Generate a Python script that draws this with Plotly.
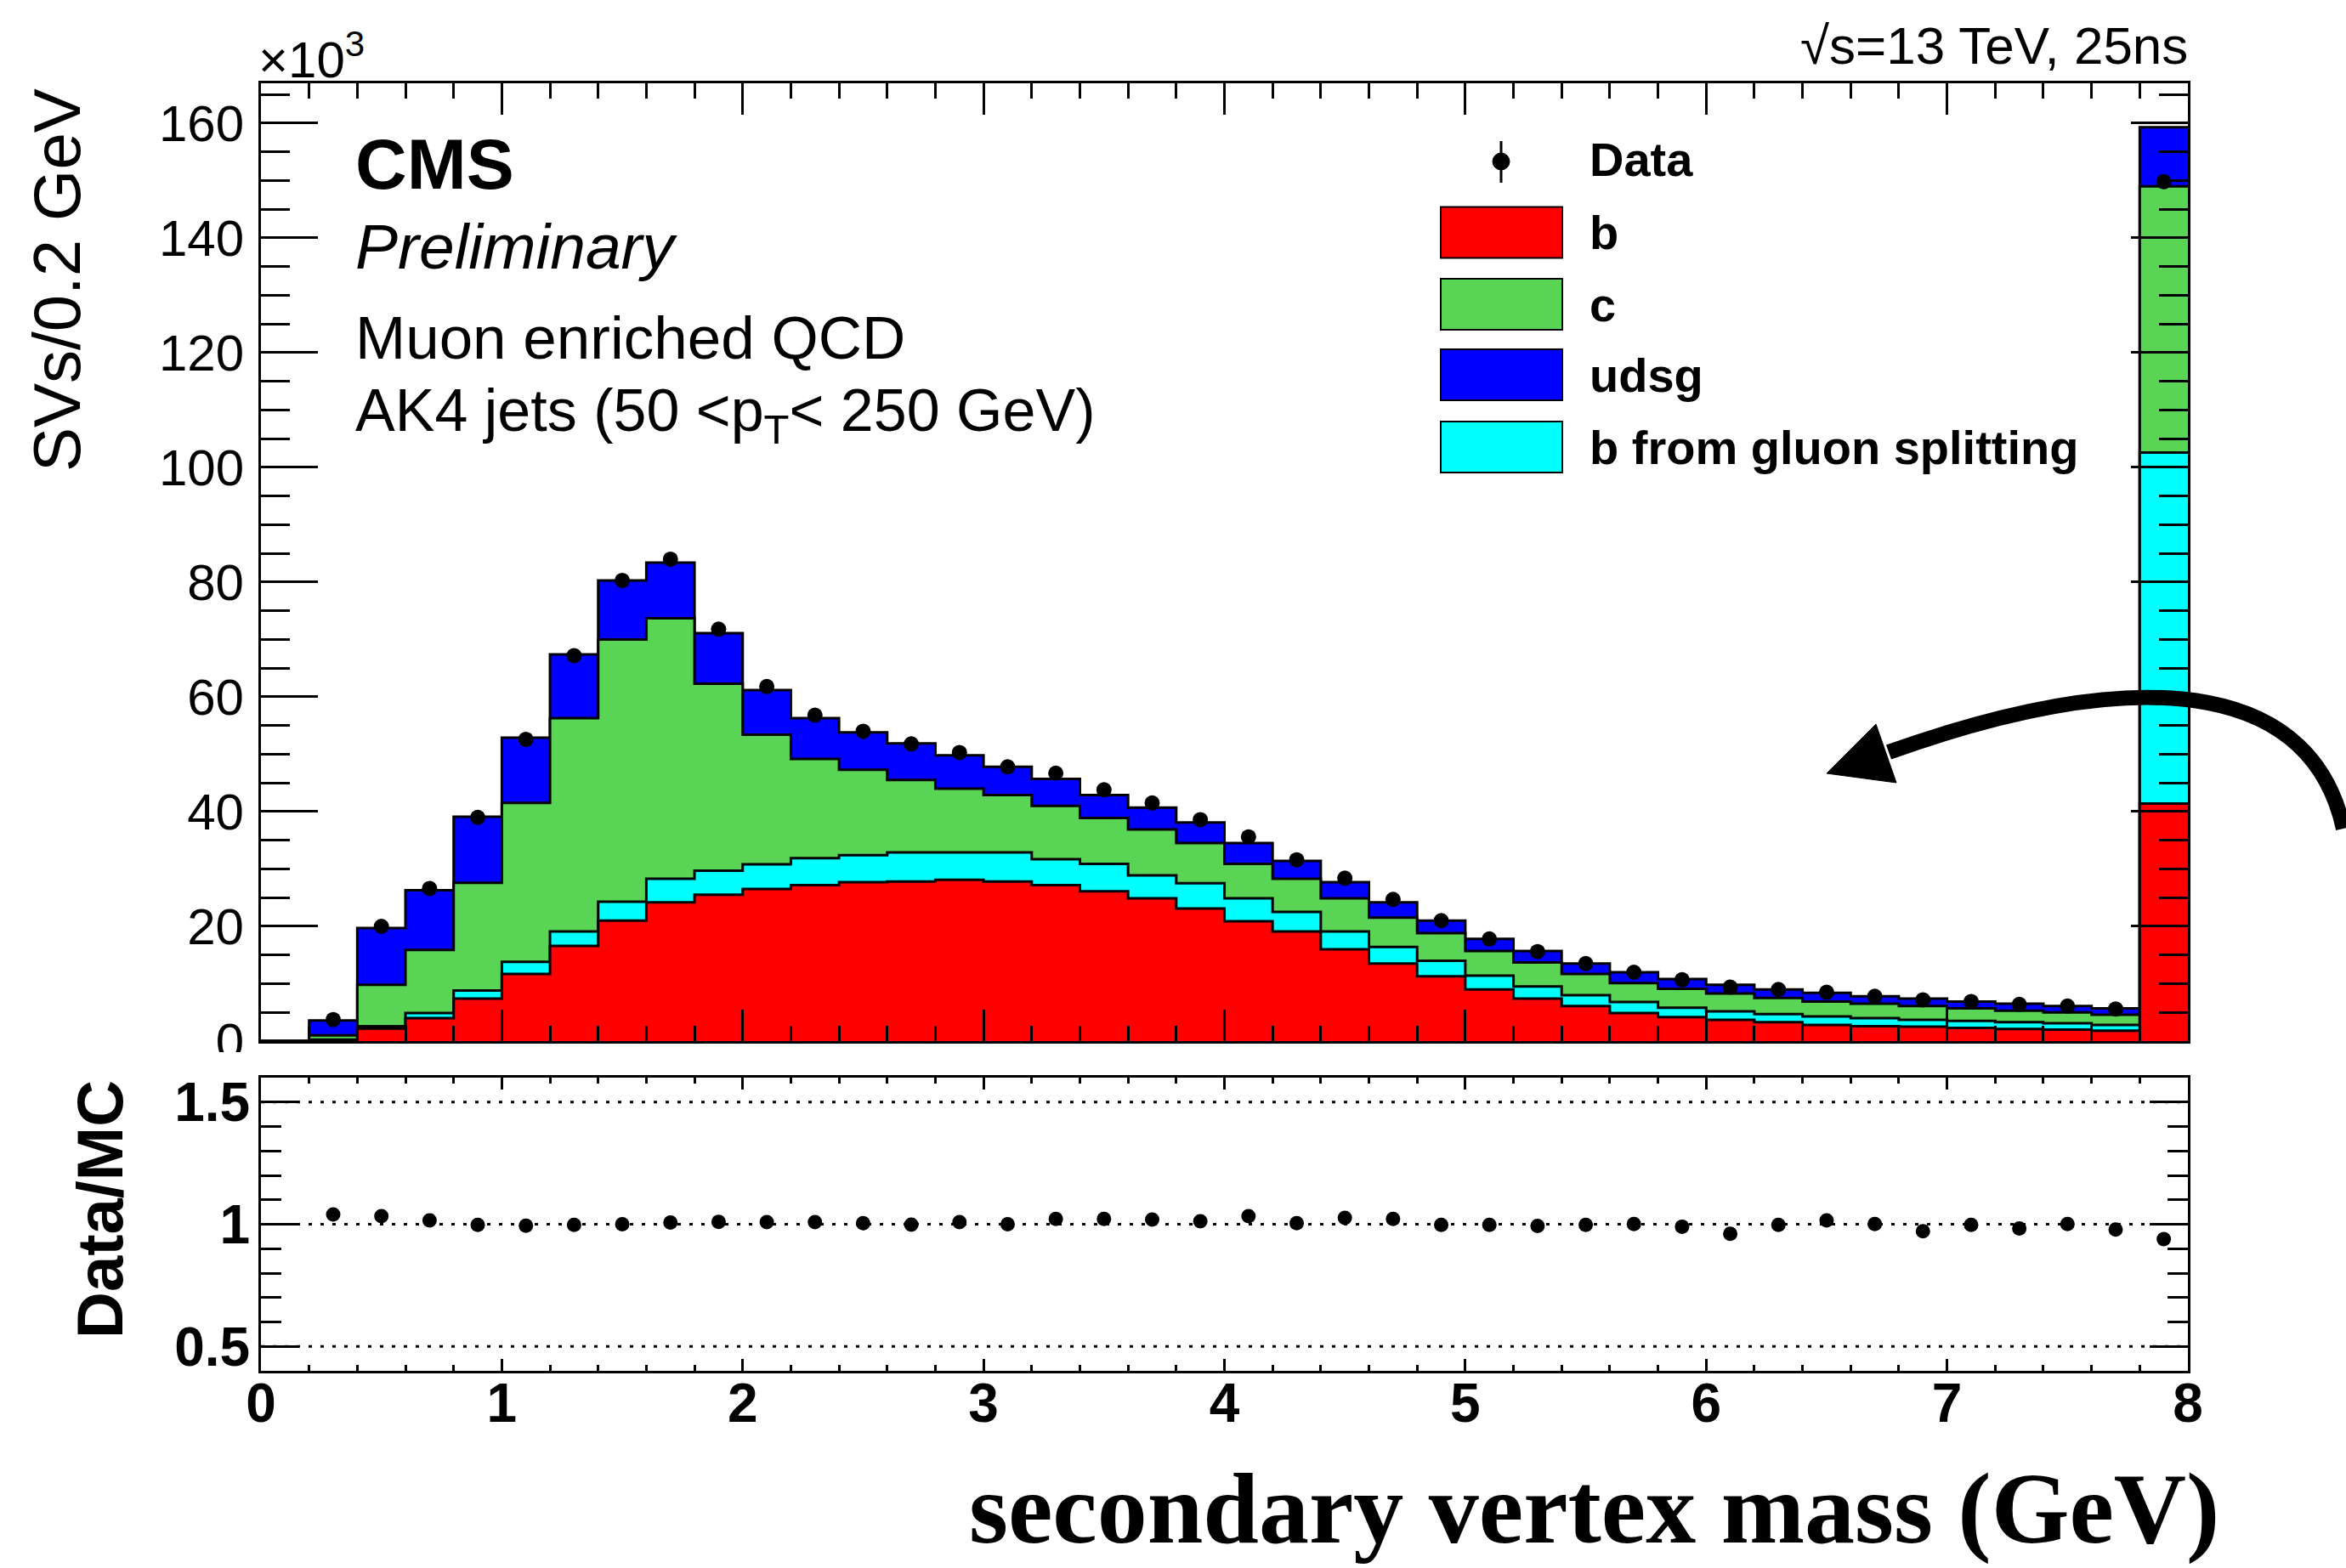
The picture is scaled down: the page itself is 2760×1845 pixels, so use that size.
import numpy as np
import plotly.graph_objects as go

W, H = 2760, 1845

# ---------------- data (units of 10^3 SVs per 0.2 GeV) ----------------
bin_edges = np.linspace(0.0, 8.0, 41)          # 40 bins of 0.2 GeV, last = overflow
bin_centers = 0.5 * (bin_edges[:-1] + bin_edges[1:])

b_jets = [0.0, 0.2, 2.2, 4.0, 7.4, 11.7, 16.6, 21.0, 24.2, 25.5,
          26.5, 27.2, 27.7, 27.8, 28.1, 27.8, 27.2, 26.1, 24.9, 23.1,
          20.9, 19.1, 16.0, 13.5, 11.3, 9.0, 7.4, 6.1, 4.9, 4.2,
          3.7, 3.3, 2.8, 2.6, 2.5, 2.3, 2.1, 2.0, 1.8, 41.4]
gsp_jets = [0.0, 0.05, 0.4, 0.9, 1.4, 2.1, 2.5, 3.3, 4.1, 4.2,
            4.3, 4.7, 4.7, 5.1, 4.8, 5.1, 4.5, 4.8, 4.0, 4.4,
            4.0, 3.4, 3.1, 2.9, 2.7, 2.4, 2.1, 1.9, 1.9, 1.6,
            1.5, 1.4, 1.5, 1.4, 1.2, 1.2, 1.2, 1.1, 1.0, 61.2]
c_jets = [0.0, 0.75, 7.2, 11.0, 18.8, 27.7, 37.2, 45.7, 45.4, 32.6,
          22.6, 17.3, 14.9, 12.6, 11.1, 10.0, 9.3, 8.0, 8.0, 7.0,
          6.0, 5.8, 5.8, 5.1, 4.8, 4.3, 4.2, 3.7, 3.3, 3.3,
          3.1, 2.8, 2.6, 2.5, 2.4, 2.2, 2.0, 1.9, 1.8, 46.4]
udsg_jets = [0.0, 2.6, 9.9, 10.4, 11.5, 11.4, 11.1, 10.3, 9.7, 8.8,
             7.8, 7.1, 6.5, 6.4, 5.8, 4.9, 4.7, 4.0, 3.8, 3.6,
             3.6, 3.1, 2.8, 2.7, 2.2, 2.1, 2.0, 1.8, 1.9, 1.7,
             1.5, 1.5, 1.5, 1.3, 1.3, 1.2, 1.2, 1.1, 1.1, 10.3]
data_counts = [None, 3.75, 20.0, 26.6, 39.0, 52.6, 67.2, 80.3, 84.0, 71.8,
               61.8, 56.8, 54.0, 51.8, 50.3, 47.8, 46.7, 43.8, 41.5, 38.6,
               35.6, 31.6, 28.4, 24.7, 21.0, 17.8, 15.6, 13.5, 12.0, 10.7,
               9.4, 9.0, 8.5, 7.8, 7.2, 6.9, 6.4, 6.1, 5.6, 149.8]
ratio_vals = [None, 1.040, 1.033, 1.016, 0.997, 0.994, 0.997, 1.000, 1.007, 1.010,
              1.009, 1.009, 1.004, 0.998, 1.009, 1.000, 1.022, 1.022, 1.019, 1.012,
              1.033, 1.004, 1.026, 1.022, 0.997, 0.997, 0.993, 0.997, 1.001, 0.990,
              0.961, 0.997, 1.016, 1.001, 0.971, 0.997, 0.983, 1.001, 0.978, 0.939]
ratio_ref_lines = [0.5, 1.0, 1.5]

legend_labels = ["b", "c", "udsg", "b from gluon splitting"]

COL_B, COL_C, COL_UDSG, COL_GSP = "#ff0000", "#59d454", "#0000ff", "#00ffff"
SANS = "Liberation Sans, Arial, Helvetica, sans-serif"
SERIF = "Liberation Serif, Times New Roman, serif"


def PX(x):
    return x / W


def PY(y):
    return 1 - y / H


# stacked cumulative levels (bottom -> top: b, gsp, c, udsg)
stack = np.cumsum(np.array([b_jets, gsp_jets, c_jets, udsg_jets]), axis=0)

fig = go.Figure()

for level, colr in [(stack[3], COL_UDSG), (stack[2], COL_C), (stack[1], COL_GSP), (stack[0], COL_B)]:
    yy = list(level) + [level[-1]]
    fig.add_trace(go.Scatter(x=bin_edges, y=yy, mode="lines",
                             line=dict(shape="hv", color="black", width=3),
                             fill="tozeroy", fillcolor=colr, showlegend=False,
                             hoverinfo="skip", xaxis="x", yaxis="y"))

fig.add_trace(go.Scatter(x=bin_centers, y=data_counts, mode="markers",
                         marker=dict(color="black", size=18), showlegend=False,
                         xaxis="x", yaxis="y"))

for v in ratio_ref_lines:
    fig.add_trace(go.Scatter(x=[bin_edges[0], bin_edges[-1]], y=[v, v], mode="lines",
                             line=dict(color="black", width=3, dash="4px,10px"),
                             showlegend=False, hoverinfo="skip", xaxis="x2", yaxis="y2"))

fig.add_trace(go.Scatter(x=bin_centers, y=ratio_vals, mode="markers",
                         marker=dict(color="black", size=17), showlegend=False,
                         xaxis="x2", yaxis="y2"))

xdom = [PX(307), PX(2574)]
common = dict(showline=True, linecolor="black", linewidth=3, mirror="ticks",
              ticks="inside", tickcolor="black", tickwidth=3,
              showgrid=False, zeroline=False, automargin=False)

fig.update_layout(
    width=W, height=H, autosize=False,
    margin=dict(l=0, r=0, t=0, b=0, pad=0),
    paper_bgcolor="white", plot_bgcolor="white",
    font=dict(family=SANS, color="black"),
    xaxis=dict(domain=xdom, anchor="y", range=[0, 8], tick0=0, dtick=1, ticklen=37,
               minor=dict(ticks="inside", ticklen=18, tickwidth=3, tickcolor="black", dtick=0.2, tick0=0),
               showticklabels=False, **common),
    yaxis=dict(domain=[PY(1225), PY(97.7)], anchor="x", range=[0, 167], tick0=0, dtick=20, ticklen=67,
               minor=dict(ticks="inside", ticklen=34, tickwidth=3, tickcolor="black", dtick=5, tick0=0),
               ticklabelstandoff=5,
               tickfont=dict(family=SANS, size=60, color="black"), **common),
    xaxis2=dict(domain=xdom, anchor="y2", range=[0, 8], tick0=0, dtick=1, ticklen=14,
                minor=dict(ticks="inside", ticklen=7, tickwidth=3, tickcolor="black", dtick=0.2, tick0=0),
                ticklabelstandoff=-20,
                tickfont=dict(family=SANS, size=64, color="black", weight="bold"), **common),
    yaxis2=dict(domain=[PY(1613), PY(1268)], anchor="x2", range=[0.4, 1.6], tick0=0.5, dtick=0.5, ticklen=45,
                minor=dict(ticks="inside", ticklen=24, tickwidth=3, tickcolor="black", dtick=0.1, tick0=0),
                ticklabelstandoff=-3,
                tickfont=dict(family=SANS, size=64, color="black", weight="bold"), **common),
)

ann = []


def add_text(text, x, y, size, xanchor="left", family=SANS, angle=0, yanchor="middle"):
    ann.append(dict(text=text, x=PX(x), y=PY(y), xref="paper", yref="paper",
                    xanchor=xanchor, yanchor=yanchor, showarrow=False, textangle=angle,
                    font=dict(family=family, size=size, color="black")))


add_text("×10<sup>3</sup>", 302, 66, 60)
add_text("√s=13 TeV, 25ns", 2576, 53, 62, xanchor="right")
add_text("<b>CMS</b>", 416, 193, 84)
add_text("<i>Preliminary</i>", 416, 290, 75)
add_text("Muon enriched QCD", 416, 397, 71)
add_text("AK4 jets (50 &lt;p<sub>T</sub>&lt; 250 GeV)", 416, 488, 70)
add_text("SVs/0.2 GeV", 67, 330, 78, xanchor="center", angle=-90)
add_text("<b>Data/MC</b>", 117, 1423, 76, xanchor="center", angle=-90)
add_text("<b>secondary vertex mass (GeV)</b>", 2613, 1843, 118, xanchor="right", family=SERIF,
         yanchor="bottom")

# legend
add_text("<b>Data</b>", 1868, 187, 56)
legend_rows = [(273.5, COL_B), (358, COL_C), (441, COL_UDSG), (526, COL_GSP)]
shapes = []
for lab, (yc, colr) in zip(legend_labels, legend_rows):
    add_text("<b>%s</b>" % lab, 1868, yc, 56)
    shapes.append(dict(type="rect", xref="paper", yref="paper", x0=PX(1695), x1=PX(1838),
                       y0=PY(yc + 30), y1=PY(yc - 30), fillcolor=colr,
                       line=dict(color="black", width=2), layer="above"))
shapes.append(dict(type="line", xref="paper", yref="paper", x0=PX(1766), x1=PX(1766),
                   y0=PY(215), y1=PY(166), line=dict(color="black", width=3), layer="above"))
shapes.append(dict(type="circle", xref="paper", yref="paper", x0=PX(1756), x1=PX(1776),
                   y0=PY(200), y1=PY(180), fillcolor="black", line=dict(color="black", width=1),
                   layer="above"))

# hide lower part of the "0" label (covered by the ratio pad in the original)
shapes.append(dict(type="rect", xref="paper", yref="paper", x0=PX(170), x1=PX(300),
                   y0=PY(1265), y1=PY(1238), fillcolor="white", line=dict(width=0), layer="above"))


def P(x, y):
    return "%.5f,%.5f" % (PX(x), PY(y))


# curved arrow
arrow_path = "M " + P(2757, 975) + " C " + P(2722, 815) + " " + P(2545, 770) + " " + P(2222, 885)
shapes.append(dict(type="path", xref="paper", yref="paper", path=arrow_path,
                   line=dict(color="black", width=18), layer="above"))
head_path = "M " + P(2149, 910) + " L " + P(2207, 852) + " L " + P(2231, 921) + " Z"
shapes.append(dict(type="path", xref="paper", yref="paper", path=head_path,
                   fillcolor="black", line=dict(color="black", width=1), layer="above"))

fig.update_layout(annotations=ann, shapes=shapes)

fig.write_html("out.html", post_script="document.body.style.margin='0';document.body.style.padding='0';")
